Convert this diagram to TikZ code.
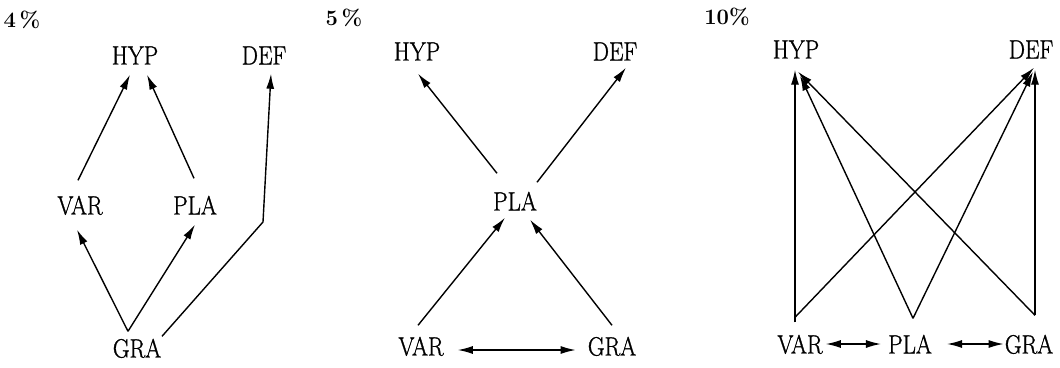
\documentclass[tikz,border=0pt]{standalone}
\usepackage{graphicx}
\usepackage{fontspec}
\newfontfamily\thickfont{Latin Modern Roman}[FakeBold=1.2]
\usetikzlibrary{arrows.meta}
\newcommand{\tall}[1]{\scalebox{1}[1.15]{#1}}
\tikzset{
  lbl/.style={font=\thickfont\fontsize{23}{27}\selectfont, inner xsep=0pt, inner ysep=9pt, text height=17pt, text depth=0pt},
  pct/.style={font=\fontsize{22}{26}\selectfont\bfseries, inner sep=0pt},
  tip/.style={},
  arr/.style={line width=1.4pt, -{Latex[length=15pt,width=8pt]}},
  darr/.style={line width=1.4pt, {Latex[length=15pt,width=8pt]}-{Latex[length=15pt,width=8pt]}},
}
\begin{document}
\begin{tikzpicture}[x=1pt,y=-1pt]
\useasboundingbox (0,0) rectangle (1060,367);
% ---------- panel 1 ----------
\node[pct] (p4) at (22,20) {4\,\%};
\node[lbl] (hyp1) at (135,56) {\tall{HYP}};
\node[lbl] (def1) at (264,56) {\tall{DEF}};
\node[lbl] (var1) at (80,206) {\tall{VAR}};
\node[lbl] (pla1) at (195,206) {\tall{PLA}};
\node[lbl] (gra1) at (137,349) {\tall{GRA}};
\coordinate (bend1) at (263,222);
\draw[arr] ([xshift=-2pt,yshift=8pt]var1.north) -- ([xshift=-5pt,yshift=-1pt]hyp1.south);
\draw[arr] ([xshift=-1pt,yshift=10pt]pla1.north) -- ([xshift=12pt,yshift=-1pt]hyp1.south);
\draw[arr] ([xshift=-9pt]gra1.north) -- ([xshift=-3pt,yshift=-6pt]var1.south);
\draw[arr] ([xshift=-9pt]gra1.north) -- ([yshift=-1pt]pla1.south);
\draw[arr] ([xshift=25pt,yshift=-5pt]gra1.north) -- (bend1) -- ([xshift=7pt]def1.south);
% ---------- panel 2 ----------
\node[pct] (p5) at (344,18) {5\,\%};
\node[lbl] (hyp2) at (417,52) {\tall{HYP}};
\node[lbl] (def2) at (615,52) {\tall{DEF}};
\node[lbl] (pla2) at (515,202) {\tall{PLA}};
\node[lbl] (var2) at (421,347) {\tall{VAR}};
\node[lbl] (gra2) at (612,347) {\tall{GRA}};
\draw[arr] ([xshift=-18pt,yshift=11pt]pla2.north) -- ([xshift=1pt,yshift=-4pt]hyp2.south);
\draw[arr] ([xshift=22pt,yshift=2pt]pla2.north) -- ([xshift=11pt,yshift=2pt]def2.south);
\draw[arr] ([xshift=-3pt,yshift=4pt]var2.north) -- ([xshift=-10pt,yshift=2pt]pla2.south);
\draw[arr] ([yshift=4pt]gra2.north) -- ([xshift=15pt]pla2.south);
\draw[darr] ([xshift=14pt,yshift=-3pt]var2.east) -- ([xshift=-12pt,yshift=-3pt]gra2.west);
% ---------- panel 3 ----------
\node[pct] (p10) at (727,17) {10\%};
\node[lbl] (hyp3) at (796,50) {\tall{HYP}};
\node[lbl] (def3) at (1031,50) {\tall{DEF}};
\node[lbl] (var3) at (800,345) {\tall{VAR}};
\node[lbl] (pla3) at (910,345) {\tall{PLA}};
\node[lbl] (gra3) at (1029,345) {\tall{GRA}};
\draw[arr] ([xshift=-5pt,yshift=5pt]var3.north) -- ([xshift=-1pt,yshift=-2pt]hyp3.south);
\draw[arr] ([xshift=-5pt,yshift=10pt]var3.north) -- ([xshift=3pt]def3.south);
\draw[arr] ([xshift=3pt,yshift=9pt]pla3.north) -- ([xshift=4pt,yshift=-8pt]hyp3.south);
\draw[arr] ([xshift=3pt,yshift=9pt]pla3.north) -- ([xshift=2pt,yshift=-4pt]def3.south);
\draw[arr] ([xshift=6pt,yshift=12pt]gra3.north) -- ([xshift=2pt,yshift=-4pt]hyp3.south);
\draw[arr] ([xshift=6pt,yshift=12pt]gra3.north) -- ([xshift=4pt,yshift=-2pt]def3.south);
\draw[darr] ([xshift=3pt,yshift=1pt]var3.east) -- ([xshift=-7pt,yshift=1pt]pla3.west);
\draw[darr] ([xshift=15pt,yshift=1pt]pla3.east) -- ([xshift=-1pt,yshift=1pt]gra3.west);
\end{tikzpicture}
\end{document}
